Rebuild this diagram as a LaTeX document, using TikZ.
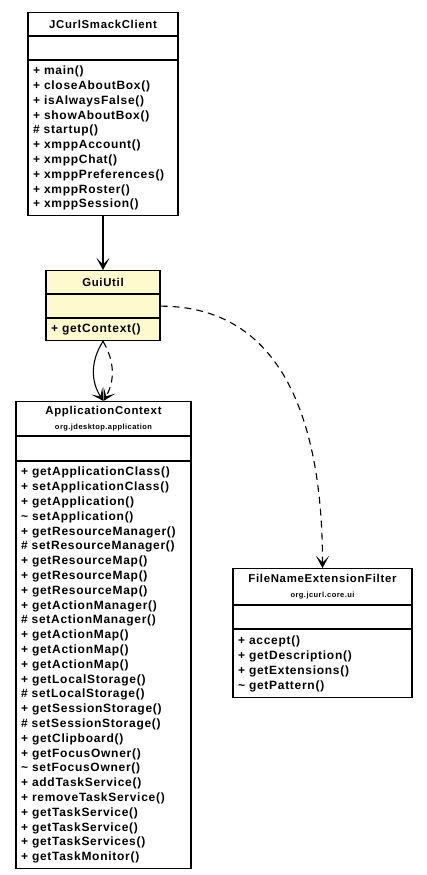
\documentclass[tikz,border=0pt]{standalone}
\usepackage{fontspec}
\usepackage{tikz}
\usetikzlibrary{positioning,arrows.meta}
\newfontfamily\umlfont{Liberation Sans}[LetterSpace=6]
\definecolor{guifill}{RGB}{255,249,206}

\begin{document}
\begin{tikzpicture}[
  x=1pt, y=-1pt,
  node distance=0pt,
  classpart/.style={rectangle, draw, line width=1.1pt, inner xsep=5pt, inner ysep=0pt, anchor=north,
    font=\umlfont\fontsize{12}{14.8}\selectfont\bfseries},
  titlebox/.style={classpart, align=center, minimum height=#1,
    font=\umlfont\fontsize{11.4}{14.8}\selectfont\bfseries},
  attrbox/.style={classpart, minimum height=#1},
  methbox/.style={classpart, align=left, minimum height=#1},
  assoc/.style={-{Stealth[length=12pt, width=13pt, inset=6.5pt]}, line width=1.1pt},
  depend/.style={assoc, dash pattern=on 7pt off 5pt}
]
  \useasboundingbox (0,0) rectangle (427,875);

  % Nodes
  % JCurlSmackClient
  \node[titlebox=23pt, text width=140pt] (clienttitle) at (103,12) {JCurlSmackClient};
  \node[attrbox=23pt, text width=140pt, below=of clienttitle] (clientattr) {};
  \node[methbox=155pt, text width=140pt, below=of clientattr] (clientmeth)
    {+ main()\\+ closeAboutBox()\\+ isAlwaysFalse()\\+ showAboutBox()\\\# startup()\\
     + xmppAccount()\\+ xmppChat()\\+ xmppPreferences()\\+ xmppRoster()\\+ xmppSession()};

  % GuiUtil
  \node[titlebox=23pt, text width=104pt, fill=guifill] (guititle) at (103,270) {GuiUtil};
  \node[attrbox=23pt, text width=104pt, fill=guifill, below=of guititle] (guiattr) {};
  \node[methbox=22pt, text width=104pt, fill=guifill, below=of guiattr] (guimeth) {+ getContext()};

  % ApplicationContext
  \node[titlebox=34pt, text width=165pt] (ctxtitle) at (103.5,401)
    {ApplicationContext\\{\fontsize{7.5}{8}\selectfont org.jdesktop.application}};
  \node[attrbox=24pt, text width=165pt, below=of ctxtitle] (ctxattr) {};
  \node[methbox=407pt, text width=165pt, below=of ctxattr] (ctxmeth)
    {+ getApplicationClass()\\+ setApplicationClass()\\+ getApplication()\\\textasciitilde\ setApplication()\\
     + getResourceManager()\\\# setResourceManager()\\+ getResourceMap()\\+ getResourceMap()\\+ getResourceMap()\\
     + getActionManager()\\\# setActionManager()\\+ getActionMap()\\+ getActionMap()\\+ getActionMap()\\
     + getLocalStorage()\\\# setLocalStorage()\\+ getSessionStorage()\\\# setSessionStorage()\\
     + getClipboard()\\+ getFocusOwner()\\\textasciitilde\ setFocusOwner()\\+ addTaskService()\\
     + removeTaskService()\\+ getTaskService()\\+ getTaskService()\\+ getTaskServices()\\+ getTaskMonitor()};

  % FileNameExtensionFilter
  \node[titlebox=36pt, text width=169pt] (filtertitle) at (322.5,568)
    {FileNameExtensionFilter\\{\fontsize{7.5}{8}\selectfont org.jcurl.core.ui}};
  \node[attrbox=23pt, text width=169pt, below=of filtertitle] (filterattr) {};
  \node[methbox=68pt, text width=169pt, below=of filterattr] (filtermeth)
    {+ accept()\\+ getDescription()\\+ getExtensions()\\\textasciitilde\ getPattern()};

  % Arrows
  \draw[assoc] (clientmeth.south) -- (guititle.north);
  \draw[assoc] (guimeth.south) to[bend right=33] (ctxtitle.north);
  \draw[depend] (guimeth.south) to[bend left=30] (ctxtitle.north);
  \draw[depend] (guiattr.east) .. controls +(120,0) and +(0,-150) .. (filtertitle.north);

\end{tikzpicture}
\end{document}
